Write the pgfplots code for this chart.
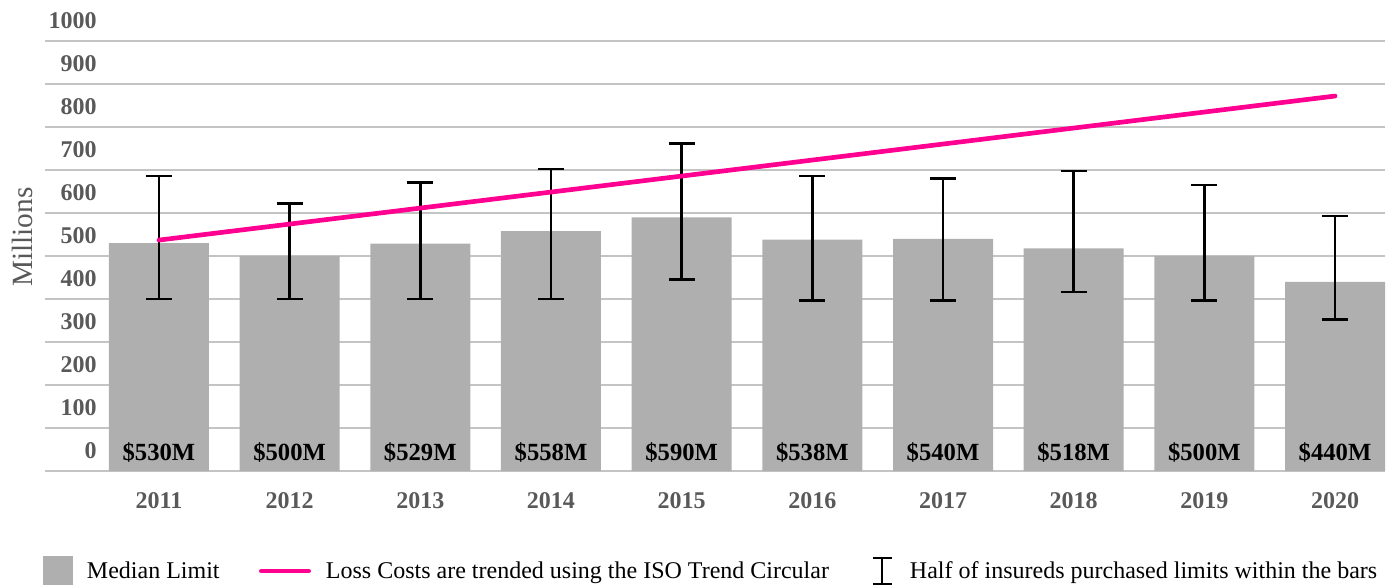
\documentclass[border=0pt]{standalone}
\usepackage{fontspec}
\setmainfont{Liberation Serif}
\usepackage{pgfplots}
\usepackage{pgfplotstable}
\pgfplotsset{compat=1.18}
\definecolor{barg}{RGB}{175,175,175}
\definecolor{pinkc}{RGB}{255,0,144}
\definecolor{gridc}{RGB}{196,196,196}
\definecolor{tickc}{RGB}{89,89,89}

\pgfplotstableread{
x y ep em
0 530 156 130
1 500 122 100
2 529 142 129
3 558 144 158
4 590 171 144
5 538 148 142
6 540 141 144
7 518 180 102
8 500 165 104
9 440 153 87
}\limits

\begin{document}
\begin{tikzpicture}
\path[use as bounding box] (-33.75pt,-85.5pt) rectangle (1013.25pt,353.25pt);
\begin{axis}[
  at={(0pt,0pt)}, anchor=south west,
  scale only axis, width=1005pt, height=322.5pt,
  xmin=-0.872, xmax=9.383, ymin=0, ymax=1000,
  ytick={0,100,...,1000},
  xtick={0,...,9},
  xticklabels={2011,2012,2013,2014,2015,2016,2017,2018,2019,2020},
  /pgf/number format/assume math mode=true,
  /pgf/number format/1000 sep={},
  ymajorgrids, grid style={gridc, line width=1.1pt},
  axis line style={draw=none}, major tick length=0pt,
  tick label style={font=\fontsize{18}{20}\selectfont\bfseries, text=tickc},
  yticklabel style={anchor=east, inner sep=0pt, xshift=39pt, yshift=15pt},
  xticklabel style={anchor=north, inner sep=0pt, yshift=-15.75pt},
  ylabel={Millions},
  ylabel style={at={(axis description cs:-0.0169,0.544)}, anchor=center, font=\fontsize{22}{24}\selectfont, text=tickc},
  legend columns=3,
  legend style={at={(axis description cs:-0.0015,-0.2326)}, anchor=west, draw=none, fill=none,
    inner sep=0pt, outer sep=0pt, font=\fontsize{18}{20}\selectfont, column sep=0pt,
    cells={anchor=west}, nodes={inner sep=0pt}},
]
\addlegendimage{legend image code/.code={\fill[barg, draw=none] (0pt,-11.25pt) rectangle (22.5pt,11.25pt); \path[draw=none, fill=none] (0pt,0pt) rectangle (33pt,0pt);}}
\addlegendentry{\makebox[129pt][l]{Median Limit}}
\addlegendimage{legend image code/.code={\draw[pinkc, line width=3.5pt, line cap=round] (1.75pt,0pt) -- (37.25pt,0pt); \path[draw=none, fill=none] (0pt,0pt) rectangle (50.25pt,0pt);}}
\addlegendentry{\makebox[407.25pt][l]{Loss Costs are trended using the ISO Trend Circular}}
\addlegendimage{legend image code/.code={\draw[black, line width=1.5pt, fill=none] (3pt,-9.75pt) -- (17pt,-9.75pt) (10pt,-9.75pt) -- (10pt,9.75pt) (3pt,9.75pt) -- (17pt,9.75pt); \path[draw=none, fill=none] (0pt,0pt) rectangle (30.75pt,0pt);}}
\addlegendentry{Half of insureds purchased limits within the bars}

\addplot[ybar, bar width=0.765, fill=barg, draw=none, forget plot] table[x=x, y=y] {\limits};

\addplot[only marks, mark=none, forget plot, point meta=explicit symbolic,
  nodes near coords, nodes near coords style={anchor=center, font=\fontsize{18.5}{20}\selectfont\bfseries, text=black}]
  coordinates {(0,42) [\$530M] (1,42) [\$500M] (2,42) [\$529M] (3,42) [\$558M] (4,42) [\$590M]
               (5,42) [\$538M] (6,42) [\$540M] (7,42) [\$518M] (8,42) [\$500M] (9,42) [\$440M]};

\addplot[draw=none, mark=none, forget plot,
  error bars/.cd, y dir=both, y explicit,
  error bar style={line width=2pt, black},
  error mark options={rotate=90, mark size=9.75pt, line width=2pt, black}]
  table[x=x, y=y, y error plus=ep, y error minus=em] {\limits};

\addplot[pinkc, line width=3.5pt, line cap=round, forget plot] coordinates {(0,537) (9,872)};
\end{axis}
\end{tikzpicture}
\end{document}
